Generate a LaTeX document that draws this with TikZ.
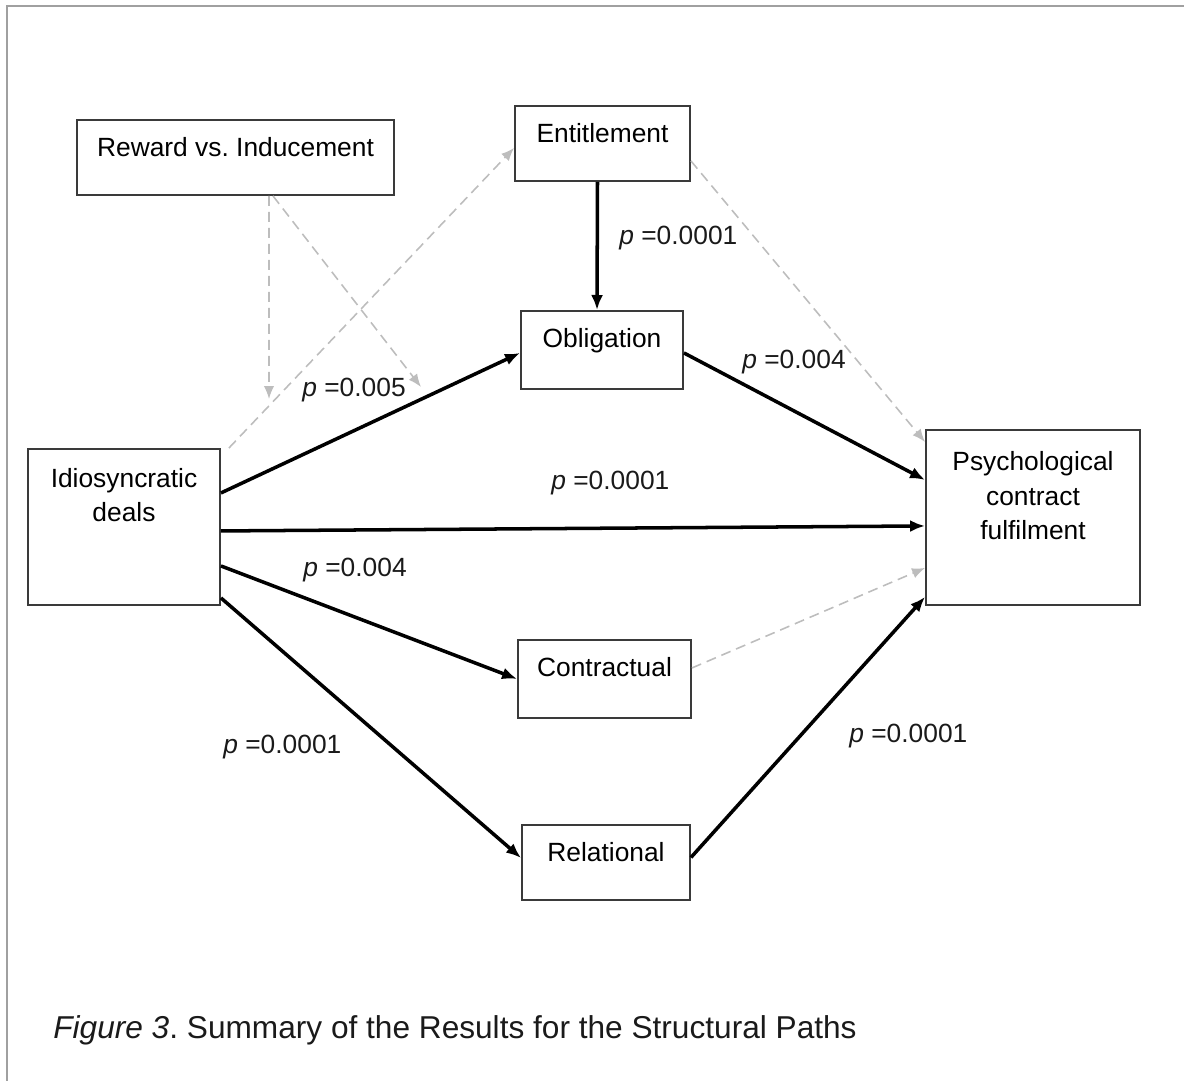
\documentclass[tikz,border=0pt]{standalone}
\usepackage{fontspec}
\setmainfont{Liberation Sans}
\usetikzlibrary{arrows.meta}
\frenchspacing

\begin{document}
\begin{tikzpicture}[x=0.02cm,y=-0.02cm,font=\fontsize{15}{19.8}\selectfont,
  box/.style={draw=boxline,line width=1.1pt,fill=white,inner sep=0pt,align=center,text height=0.74cm},
  sig/.style={black,line width=2pt,-{Latex[length=0.3cm,width=0.24cm]}},
  nonsig/.style={nsgray,line width=0.9pt,dash pattern=on 0.2cm off 0.12cm,-{Latex[length=0.26cm,width=0.21cm]}},
  pval/.style={anchor=west,inner sep=0pt,text=txt}]
  \definecolor{boxline}{HTML}{3A3A3A}
  \definecolor{nsgray}{HTML}{BDBDBD}
  \definecolor{framegray}{HTML}{A0A0A0}
  \definecolor{txt}{HTML}{1A1A1A}
  \path[use as bounding box] (0,0) rectangle (1184,1081);
  \draw[framegray,line width=1.1pt] (7,1081) -- (7,6) -- (1184,6);
  % constructs
  \node[box,anchor=north,minimum width=6.34cm,text depth=0.76cm] (rew) at (235.5,119) {Reward vs. Inducement};
  \node[box,anchor=north,minimum width=3.5cm,text depth=0.76cm] (ent) at (602.5,105) {Entitlement};
  \node[box,anchor=north,minimum width=3.24cm,text depth=0.82cm] (obl) at (602,310) {Obligation};
  \node[box,anchor=north,minimum width=3.84cm,text height=1.46cm,text depth=1.66cm] (idio) at (124,448) {Idiosyncratic\\deals};
  \node[box,anchor=north,minimum width=4.28cm,text height=2.2cm,text depth=1.3cm] (psy) at (1033,429) {Psychological\\contract\\fulfilment};
  \node[box,anchor=north,minimum width=3.46cm,text depth=0.82cm] (con) at (604.5,639) {Contractual};
  \node[box,anchor=north,minimum width=3.36cm,text depth=0.76cm] (rel) at (606,824) {Relational};
  \coordinate (modA) at (269,399);
  \coordinate (modB) at (421,387);
  % non-significant paths
  \draw[nonsig] ([xshift=0.67cm]rew.south) -- (modA);
  \draw[nonsig] ([xshift=0.75cm]rew.south) -- (modB);
  \draw[nonsig] ([xshift=0.16cm]idio.north east) -- ([yshift=-0.09cm]ent.west);
  \draw[nonsig] ([yshift=-0.35cm]ent.east) -- ([yshift=-0.26cm]psy.north west);
  \draw[nonsig] ([yshift=0.22cm]con.east) -- ([yshift=-1.01cm]psy.west);
  % significant paths
  \draw[sig] ([xshift=-0.1cm]ent.south) -- ([xshift=-0.1cm]obl.north);
  \draw[sig] ([yshift=0.68cm]idio.east) -- ([yshift=-0.06cm]obl.west);
  \draw[sig] ([yshift=-0.08cm]idio.east) -- ([yshift=-0.17cm]psy.west);
  \draw[sig] ([yshift=-0.78cm]idio.east) -- (con.west);
  \draw[sig] ([yshift=-1.42cm]idio.east) -- ([yshift=0.09cm]rel.west);
  \draw[sig] ([yshift=-0.06cm]obl.east) -- ([yshift=0.75cm]psy.west);
  \draw[sig] ([yshift=0.1cm]rel.east) -- ([yshift=0.18cm]psy.south west);
  % p values
  \node[pval] (pent) at (619,238) {\textit{p} =0.0001};
  \node[pval] (pobl) at (302,390) {\textit{p} =0.005};
  \node[pval] (ppsy) at (551,483) {\textit{p} =0.0001};
  \node[pval] (pcon) at (303,570) {\textit{p} =0.004};
  \node[pval] (prel) at (223,747) {\textit{p} =0.0001};
  \node[pval] (poblpsy) at (742,362) {\textit{p} =0.004};
  \node[pval] (prelpsy) at (849,736) {\textit{p} =0.0001};
  \node[anchor=base west,inner sep=0pt,text=txt,font=\fontsize{18}{22}\selectfont] (cap) at (53,1038)
    {\textit{Figure 3}. Summary of the Results for the Structural Paths};
\end{tikzpicture}
\end{document}
